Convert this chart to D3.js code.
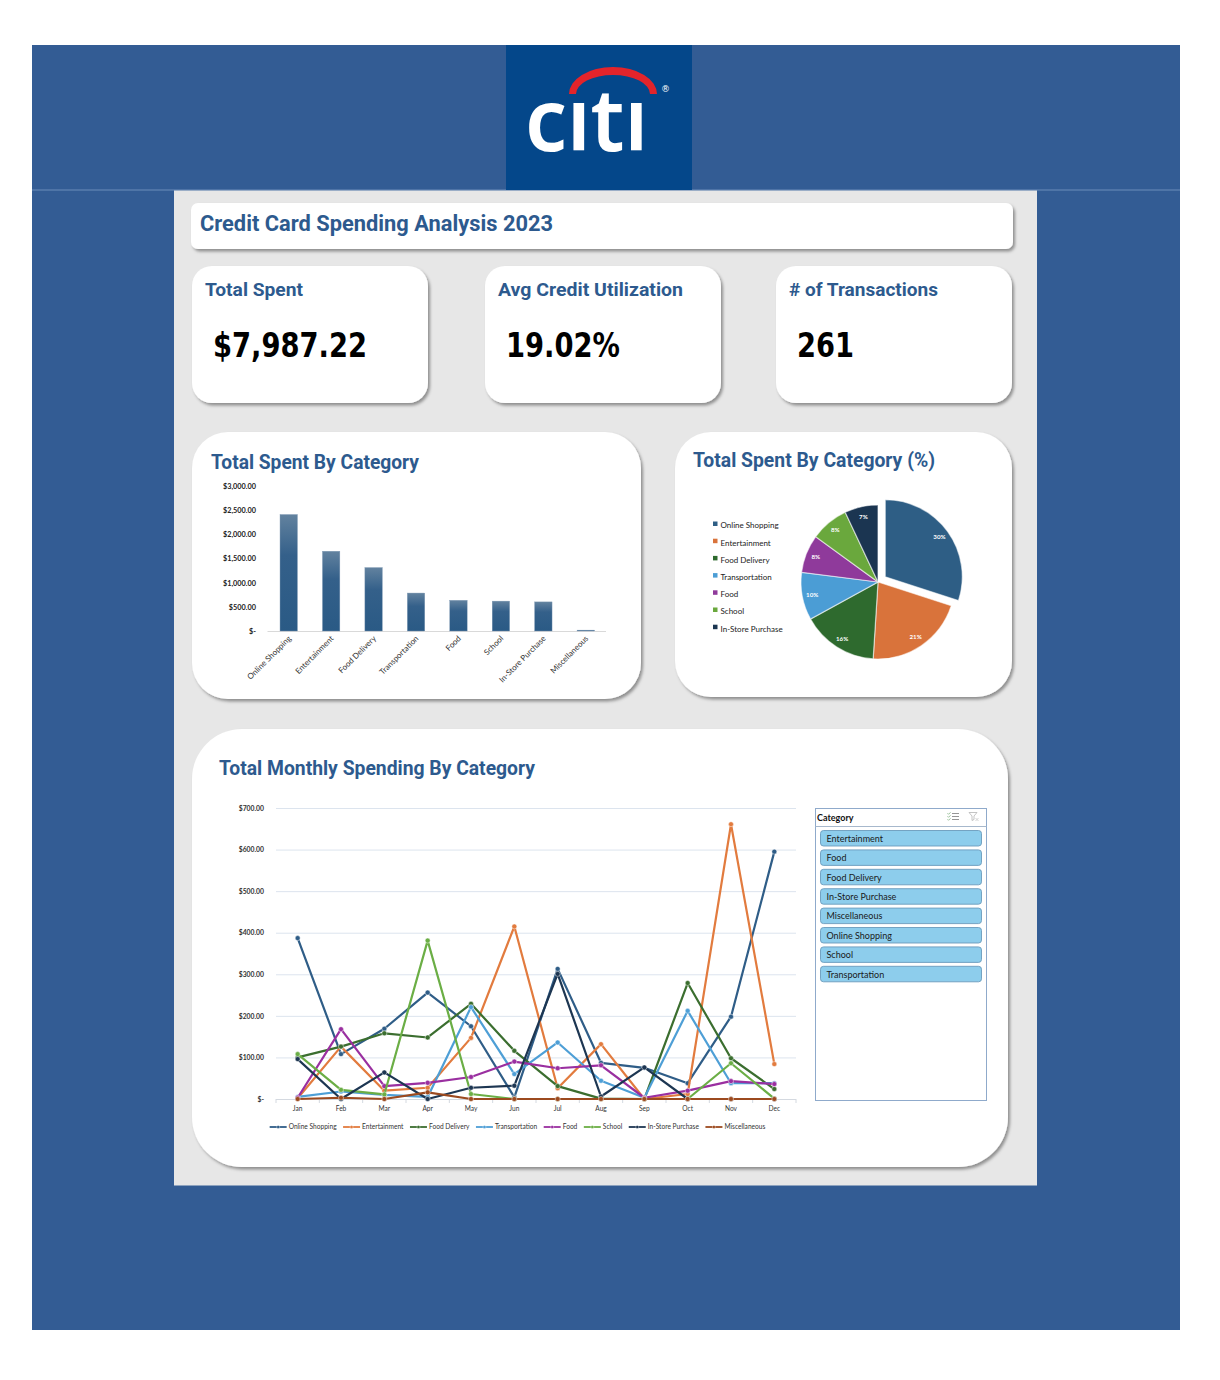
<!DOCTYPE html>
<html><head><meta charset="utf-8">
<script src="https://cdn.jsdelivr.net/npm/d3@7/dist/d3.min.js"></script>
<style>body{margin:0;background:#fff}svg{display:block}</style>
</head><body>
<svg id="c" width="1220" height="1380"></svg>
<script>
// ---------------- DATA ----------------
const categories = ["Online Shopping","Entertainment","Food Delivery","Transportation","Food","School","In-Store Purchase","Miscellaneous"];
const categoryTotals = [2410,1650,1312,785,635,618,602,18];
const barTicks = [0,500,1000,1500,2000,2500,3000];

const pieCategories = ["Online Shopping","Entertainment","Food Delivery","Transportation","Food","School","In-Store Purchase"];
const pieShares = [30,21,16,10,8,8,7];

const months = ["Jan","Feb","Mar","Apr","May","Jun","Jul","Aug","Sep","Oct","Nov","Dec"];
const monthlyOnlineShopping = [387,108,169,256,175,4,313,87,75,38,198,595];
const monthlyEntertainment  = [2,126,20,27,147,415,26,132,0,12,661,84];
const monthlyFoodDelivery   = [100,126,158,148,229,116,31,1,0,279,98,24];
const monthlyTransportation = [5,18,10,5,221,60,136,44,3,212,38,38];
const monthlyFood           = [3,168,31,39,53,90,74,81,3,20,43,36];
const monthlySchool         = [108,22,11,381,12,0,0,0,0,0,86,1];
const monthlyInStore        = [96,0,64,0,27,32,301,6,76,0,0,0];
const monthlyMisc           = [0,3,0,16,0,0,0,0,0,0,0,0];
const lineTicks = [0,100,200,300,400,500,600,700];

const slicerItems = ["Entertainment","Food","Food Delivery","In-Store Purchase","Miscellaneous","Online Shopping","School","Transportation"];

const kpiTitles = ["Total Spent","Avg Credit Utilization","# of Transactions"];
const kpiValues = ["$7,987.22","19.02%","261"];

// ---------------- STYLE ----------------
const lineColors = ["#2F5D87","#E27B3E","#3B6E2F","#4E9FD6","#9A2FA0","#6BAE45","#1D3652","#9C4A1F"];
const pieColors  = ["#2E5E85","#D9733B","#2E6A2E","#4B9DD5","#8F3A9B","#6AA83D","#1B3551"];
const headColor = "#2D5A8E";
const HF = "Lato, 'Open Sans', sans-serif";
const TF = "Roboto, 'Noto Sans', sans-serif";

const svg = d3.select("#c");
const defs = svg.append("defs");
const sh = defs.append("filter").attr("id","sh").attr("x","-5%").attr("y","-5%").attr("width","115%").attr("height","125%");
sh.append("feDropShadow").attr("dx",2).attr("dy",2.5).attr("stdDeviation",1.6).attr("flood-color","#000").attr("flood-opacity",0.38);
const bg = defs.append("linearGradient").attr("id","barg").attr("x1",0).attr("y1",0).attr("x2",0).attr("y2",1);
bg.append("stop").attr("offset","0%").attr("stop-color","#62829F");
bg.append("stop").attr("offset","35%").attr("stop-color","#34608A");
bg.append("stop").attr("offset","100%").attr("stop-color","#2A5A85");

// background
svg.append("rect").attr("x",32).attr("y",45).attr("width",1148).attr("height",1285).attr("fill","#335C94");
svg.append("line").attr("x1",32).attr("x2",1180).attr("y1",190).attr("y2",190).attr("stroke","#6D8DBA").attr("stroke-width",1);
svg.append("rect").attr("x",506).attr("y",45).attr("width",186).attr("height",145).attr("fill","#04478A");
svg.append("rect").attr("x",174).attr("y",190.5).attr("width",863).attr("height",995).attr("fill","#E7E7E7");

// logo
const logoText = svg.append("text").attr("x",525).attr("y",151).attr("fill","#fff")
  .attr("font-family","'Noto Sans', sans-serif").attr("font-weight",600).attr("font-size",86)
  .attr("textLength",123).attr("lengthAdjust","spacingAndGlyphs").text("citi");
{
  const ext = logoText.node().getExtentOfChar(2);
  const cp = defs.append("clipPath").attr("id","logoclip");
  cp.append("rect").attr("x",500).attr("y",100).attr("width",200).attr("height",90);
  cp.append("rect").attr("x",ext.x+1).attr("y",80).attr("width",ext.width-2).attr("height",110);
  logoText.attr("clip-path","url(#logoclip)");
}
svg.append("path").attr("d","M569,94 A44,27 0 0 1 657,94 L650,94 A37,19 0 0 0 576,94 Z").attr("fill","#E3242B");
svg.append("text").attr("x",661).attr("y",92).attr("fill","#fff").attr("font-size",9)
  .attr("font-family","'DejaVu Sans', sans-serif").text("®");

// cards
function card(x,y,w,h,r){
  svg.append("rect").attr("x",x).attr("y",y).attr("width",w).attr("height",h).attr("rx",r).attr("ry",r)
    .attr("fill","#fff").attr("filter","url(#sh)");
}
function heading(txt,x,y,size,w){
  const t = svg.append("text").attr("x",x).attr("y",y).attr("fill",headColor).attr("font-family",TF)
    .attr("font-weight",700).attr("font-size",size).text(txt);
  if (w) t.attr("textLength",w).attr("lengthAdjust","spacingAndGlyphs");
  return t;
}
card(191,203,822,46,7);
heading("Credit Card Spending Analysis 2023",200,231,22,353);

const kpiX = [192,485,776], kpiTW=[98,185,149], kpiVW=[154,114,57];
kpiTitles.forEach((t,i)=>{
  card(kpiX[i],266,236,137,20);
  heading(t,kpiX[i]+13,296,19,kpiTW[i]);
  svg.append("text").attr("x",kpiX[i]+21).attr("y",357).attr("fill","#000")
    .attr("font-family","'DejaVu Sans', sans-serif").attr("font-weight",700).attr("font-size",33)
    .attr("textLength",kpiVW[i]).attr("lengthAdjust","spacingAndGlyphs").text(kpiValues[i]);
});

card(192,432,449,267,36);
heading("Total Spent By Category",211,469,19.5,208);
card(675,432,337,265,36);
heading("Total Spent By Category (%)",693,467,19.5,242);
card(192,729,816,438,50);
heading("Total Monthly Spending By Category",219,775,19.5,316);

// ---------------- BAR CHART ----------------
{
  const x = d3.scaleBand().domain(categories).range([267.5,607]).paddingInner(0.59).paddingOuter(0.295);
  const y = d3.scaleLinear().domain([0,3000]).range([631,486]);
  const g = svg.append("g");
  g.append("line").attr("x1",267.5).attr("x2",606).attr("y1",y(0)+0.5).attr("y2",y(0)+0.5).attr("stroke","#D9D9D9");
  g.selectAll(".bar").data(categories).enter().append("rect")
    .attr("x",d=>x(d)).attr("width",x.bandwidth())
    .attr("y",(d,i)=>y(categoryTotals[i])).attr("height",(d,i)=>y(0)-y(categoryTotals[i]))
    .attr("fill","url(#barg)").attr("stroke","#7D98B3").attr("stroke-width",0.4);
  const yAxis = d3.axisLeft(y).tickValues(barTicks).tickSize(0)
    .tickFormat(v=> v===0 ? "$-" : "$"+d3.format(",.2f")(v));
  const ya = g.append("g").attr("transform","translate(259,0)").call(yAxis);
  ya.select(".domain").remove();
  ya.selectAll("text").attr("font-family",HF).attr("font-size",7.3).attr("fill","#222").attr("font-weight",700).attr("dx",0);
  g.selectAll(".xl").data(categories).enter().append("text")
    .attr("transform",d=>`translate(${x(d)+x.bandwidth()/2+3},639) rotate(-45)`)
    .attr("text-anchor","end").attr("font-family",HF).attr("font-size",8).attr("fill","#333").text(d=>d);
}

// ---------------- PIE CHART ----------------
{
  const cx=878, cy=582, R=77;
  const arcs = d3.pie().sort(null).value(d=>d)(pieShares);
  const arc = d3.arc().innerRadius(0).outerRadius(R);
  const la = d3.arc().innerRadius(67).outerRadius(67);
  const g = svg.append("g").attr("transform",`translate(${cx},${cy})`);
  const off = (d,i)=>{ if(i!==0) return [0,0]; const m=(d.startAngle+d.endAngle)/2; return [Math.sin(m)*9,-Math.cos(m)*9]; };
  g.selectAll(".sl").data(arcs).enter().append("path")
    .attr("d",arc).attr("transform",(d,i)=>`translate(${off(d,i)})`)
    .attr("fill",(d,i)=>pieColors[i]).attr("stroke","#fff").attr("stroke-opacity",0.55).attr("stroke-width",1.2);
  g.selectAll(".pl").data(arcs).enter().append("text")
    .attr("transform",(d,i)=>{const c=la.centroid(d), o=off(d,i); return `translate(${c[0]+o[0]},${c[1]+o[1]+2})`;})
    .attr("text-anchor","middle").attr("font-family",HF).attr("font-weight",700).attr("font-size",6.2)
    .attr("fill","#fff").text(d=>d.data+"%");
  const lg = svg.append("g");
  pieCategories.forEach((c,i)=>{
    const yy = 526 + i*17.2;
    lg.append("rect").attr("x",713).attr("y",yy-4.5).attr("width",4.5).attr("height",4.5).attr("fill",pieColors[i]);
    lg.append("text").attr("x",720.5).attr("y",yy).attr("dy","0.3em").attr("font-family",HF).attr("font-size",8).attr("fill","#222").text(c);
  });
}

// ---------------- LINE CHART ----------------
{
  const series = [monthlyOnlineShopping,monthlyEntertainment,monthlyFoodDelivery,monthlyTransportation,monthlyFood,monthlySchool,monthlyInStore,monthlyMisc];
  const x = d3.scaleBand().domain(months).range([276,796]);
  const xc = m => x(m)+x.bandwidth()/2;
  const y = d3.scaleLinear().domain([0,700]).range([1099,808]);
  const g = svg.append("g");
  g.selectAll(".gl").data(lineTicks.filter(v=>v>0)).enter().append("line")
    .attr("x1",276).attr("x2",796).attr("y1",d=>y(d)+0.5).attr("y2",d=>y(d)+0.5).attr("stroke","#DCE4EE").attr("stroke-width",1);
  g.append("line").attr("x1",276).attr("x2",796).attr("y1",y(0)+0.5).attr("y2",y(0)+0.5).attr("stroke","#D4D9E0");
  g.selectAll(".tk").data(d3.range(13)).enter().append("line")
    .attr("x1",d=>276+d*x.bandwidth()).attr("x2",d=>276+d*x.bandwidth()).attr("y1",1099).attr("y2",1103).attr("stroke","#D4D9E0");
  const yAxis = d3.axisLeft(y).tickValues(lineTicks).tickSize(0)
    .tickFormat(v=> v===0 ? "$-" : "$"+d3.format(",.2f")(v));
  const ya = g.append("g").attr("transform","translate(267,0)").call(yAxis);
  ya.select(".domain").remove();
  ya.selectAll("text").attr("font-family",HF).attr("font-size",6.8).attr("fill","#333").attr("font-weight",700);
  g.selectAll(".mx").data(months).enter().append("text").attr("x",xc).attr("y",1111)
    .attr("text-anchor","middle").attr("font-family",HF).attr("font-size",6.6).attr("fill","#333").text(d=>d);
  const line = d3.line().x((d,i)=>xc(months[i])).y(d=>y(d));
  series.forEach((s,k)=>{
    g.append("path").attr("d",line(s)).attr("fill","none").attr("stroke",lineColors[k]).attr("stroke-width",2.2).attr("stroke-linejoin","round");
    g.selectAll(null).data(s).enter().append("circle")
      .attr("cx",(d,i)=>xc(months[i])).attr("cy",d=>y(d)).attr("r",2.5)
      .attr("fill",lineColors[k]).attr("stroke","#fff").attr("stroke-opacity",0.6).attr("stroke-width",0.8);
  });
  // legend
  const lg = svg.append("g");
  let items = [], px = 0;
  categories.forEach((c,k)=>{
    const it = lg.append("g");
    it.append("line").attr("x1",0).attr("x2",17).attr("y1",0).attr("y2",0).attr("stroke",lineColors[k]).attr("stroke-width",1.8);
    it.append("circle").attr("cx",8.5).attr("cy",0).attr("r",1.6).attr("fill",lineColors[k]).attr("stroke","#fff").attr("stroke-opacity",0.6).attr("stroke-width",0.6);
    const t = it.append("text").attr("x",19).attr("y",0).attr("dy","0.33em").attr("font-family",HF).attr("font-size",6.6).attr("fill","#333").text(c);
    const w = 19 + t.node().getComputedTextLength();
    items.push([it,px]); px += w + 6.5;
  });
  const total = px - 6.5, start = 517.5 - total/2;
  items.forEach(([it,p])=>it.attr("transform",`translate(${start+p},1127)`));
}

// ---------------- SLICER ----------------
{
  const g = svg.append("g");
  g.append("rect").attr("x",815.5).attr("y",808.5).attr("width",171).attr("height",292).attr("fill","#fff").attr("stroke","#8FAACB").attr("stroke-width",1);
  g.append("text").attr("x",817).attr("y",820.5).attr("font-family",HF).attr("font-weight",700).attr("font-size",9).attr("fill","#111").text("Category");
  g.append("line").attr("x1",815.5).attr("x2",986.5).attr("y1",826.5).attr("y2",826.5).attr("stroke","#A7B8CC");
  [0,1,2].forEach(i=>{
    g.append("line").attr("x1",952).attr("x2",959).attr("y1",813.5+i*3).attr("y2",813.5+i*3).attr("stroke","#8a8a8a").attr("stroke-width",0.9);
    g.append("path").attr("d",`M947.5,${813.3+i*3} l1,1 l2,-2`).attr("fill","none").attr("stroke","#7fb07f").attr("stroke-width",0.8);
  });
  g.append("path").attr("d","M969,812.5 h8 l-3,3.5 v3.5 l-2,1 v-4.5 Z").attr("fill","none").attr("stroke","#b5b5b5").attr("stroke-width",0.8);
  g.append("path").attr("d","M975.5,818 l3,3 M978.5,818 l-3,3").attr("stroke","#c8c8c8").attr("stroke-width",0.8);
  slicerItems.forEach((s,i)=>{
    const yy = 830.5 + i*19.4;
    g.append("rect").attr("x",820.5).attr("y",yy).attr("width",161).attr("height",15.5).attr("rx",3)
      .attr("fill","#8DCDEC").attr("stroke","#6B9BBC").attr("stroke-width",0.9);
    g.append("text").attr("x",826.5).attr("y",yy+11.3).attr("font-family",HF).attr("font-size",9).attr("fill","#1a1a1a").text(s);
  });
}
</script>
</body></html>
